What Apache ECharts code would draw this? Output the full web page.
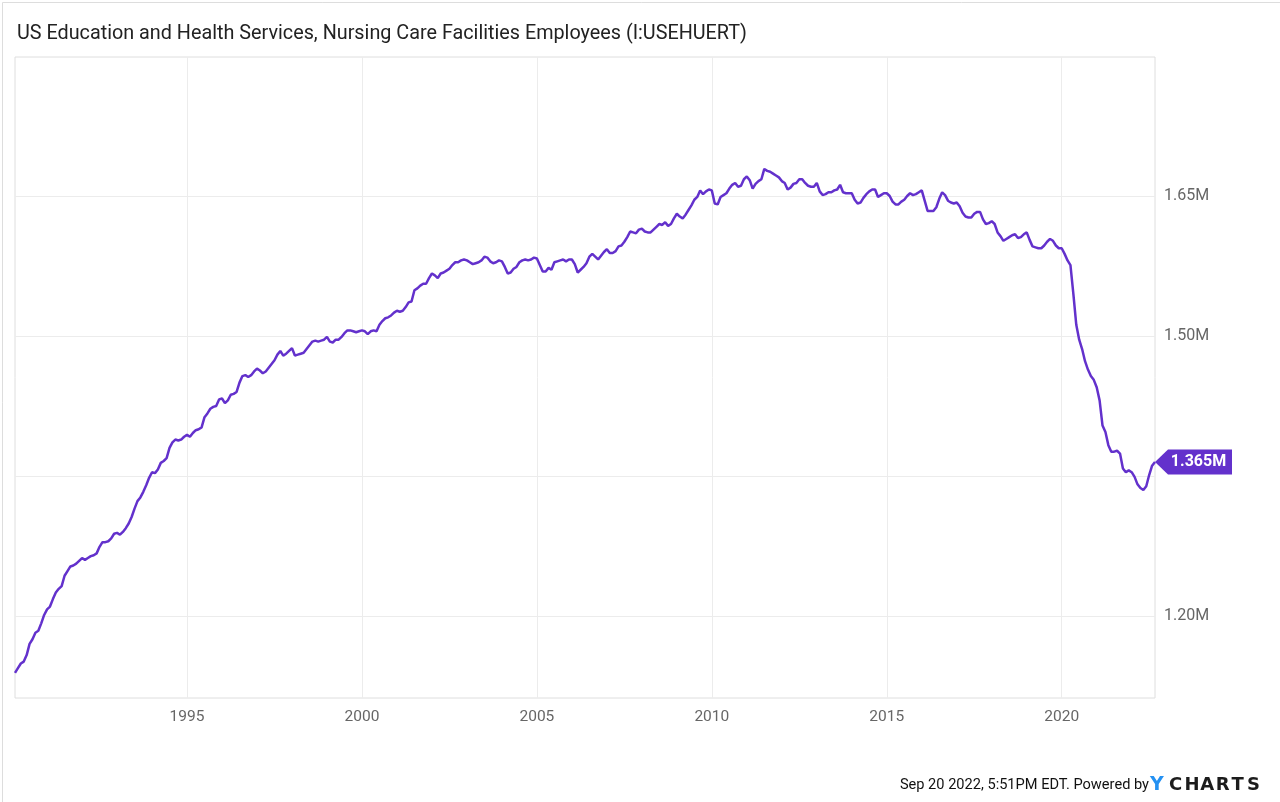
<!DOCTYPE html>
<html>
<head>
<meta charset="utf-8">
<script src="https://cdn.jsdelivr.net/npm/echarts@6/dist/echarts.min.js"></script>
<style>
html,body{margin:0;padding:0;background:#fff;}
#chart{width:1280px;height:802px;}
</style>
</head>
<body>
<div id="chart"></div>
<script>
// Monthly values, thousands of employees (end of month), Jan 1990 .. Aug 2022
const y1990 = [1139,1144,1149,1151,1158,1170,1175,1182,1184,1192,1201,1207];
const y1991 = [1210,1218,1225,1229,1232,1243,1248,1253,1254,1256,1259,1262];
const y1992 = [1260,1262,1264,1265,1267,1274,1279,1279,1280,1283,1288,1289];
const y1993 = [1287,1290,1294,1299,1306,1315,1323,1327,1333,1340,1348,1354];
const y1994 = [1353,1357,1364,1366,1369,1380,1386,1389,1388,1389,1392,1394];
const y1995 = [1392,1396,1399,1400,1402,1413,1417,1422,1424,1425,1432,1433];
const y1996 = [1428,1431,1437,1438,1440,1450,1457,1458,1456,1458,1462,1465];
const y1997 = [1463,1460,1462,1466,1470,1474,1480,1484,1479,1481,1484,1487];
const y1998 = [1479,1480,1481,1482,1486,1490,1494,1495,1494,1495,1496,1499];
const y1999 = [1494,1493,1496,1496,1499,1503,1506,1506,1505,1504,1505,1506];
const y2000 = [1505,1502,1505,1506,1505,1512,1516,1519,1520,1522,1525,1527];
const y2001 = [1526,1527,1531,1536,1537,1549,1551,1554,1556,1556,1562,1567];
const y2002 = [1565,1562,1567,1568,1570,1572,1576,1579,1579,1581,1582,1581];
const y2003 = [1579,1577,1578,1579,1581,1585,1584,1580,1578,1579,1581,1580];
const y2004 = [1574,1567,1568,1572,1574,1579,1581,1582,1581,1582,1584,1583];
const y2005 = [1576,1569,1569,1573,1571,1579,1580,1581,1582,1580,1582,1582];
const y2006 = [1577,1568,1571,1574,1578,1585,1588,1585,1582,1586,1590,1593];
const y2007 = [1589,1589,1591,1596,1597,1601,1606,1612,1611,1610,1614,1615];
const y2008 = [1612,1611,1611,1614,1617,1620,1619,1622,1618,1620,1626,1631];
const y2009 = [1628,1626,1630,1635,1640,1646,1649,1656,1652,1655,1657,1656];
const y2010 = [1642,1641,1649,1651,1653,1658,1662,1664,1660,1661,1668,1671];
const y2011 = [1667,1658,1663,1666,1668,1679,1677,1676,1674,1672,1670,1666];
const y2012 = [1664,1657,1659,1663,1664,1668,1668,1664,1661,1660,1660,1664];
const y2013 = [1655,1651,1652,1654,1654,1656,1657,1662,1654,1653,1653,1653];
const y2014 = [1646,1642,1643,1648,1652,1655,1657,1657,1649,1651,1653,1653];
const y2015 = [1650,1644,1641,1641,1644,1646,1650,1653,1651,1652,1654,1656];
const y2016 = [1645,1634,1634,1634,1638,1647,1654,1651,1645,1643,1642,1643];
const y2017 = [1639,1632,1628,1627,1627,1631,1633,1633,1625,1620,1621,1623];
const y2018 = [1620,1611,1607,1602,1604,1606,1608,1609,1605,1606,1609,1611];
const y2019 = [1603,1596,1595,1594,1594,1597,1601,1604,1602,1597,1594,1594];
const y2020 = [1588,1581,1576,1545,1512,1496,1486,1473,1464,1457,1453,1445];
const y2021 = [1431,1404,1397,1383,1376,1376,1377,1374,1358,1354,1356,1354];
const y2022 = [1349,1341,1337,1335,1339,1351,1361,1365];

const firstYear = 1990;
const yearTicks = [1995, 2000, 2005, 2010, 2015, 2020];
const gridValues = [1200, 1350, 1500, 1650];
const labelValues = [1200, 1500, 1650];
const titleText = 'US Education and Health Services, Nursing Care Facilities Employees (I:USEHUERT)';
const footerText = 'Sep 20 2022, 5:51PM EDT. Powered by';
const logoLetters = ['C', 'H', 'A', 'R', 'T', 'S'];

const years = [y1990,y1991,y1992,y1993,y1994,y1995,y1996,y1997,y1998,y1999,y2000,y2001,y2002,y2003,y2004,y2005,y2006,y2007,y2008,y2009,y2010,y2011,y2012,y2013,y2014,y2015,y2016,y2017,y2018,y2019,y2020,y2021,y2022];
const values = [].concat(...years);
// month-end dates expressed as fractional years
const series = values.map((v, i) => [firstYear + (i + 1) / 12, v]);
const last = series[series.length - 1];

const purple = '#6331cc';
const logoGraphics = [
  {type: 'text', left: 1150, top: 776, style: {text: 'Y', fontFamily: 'DejaVu Sans', fontSize: 19, fontWeight: 'bold', fill: '#2491f2'}}
].concat(logoLetters.map((ch, i) => ({
  type: 'text', left: 1169 + i * 15.6, top: 776,
  style: {text: ch, fontFamily: 'DejaVu Sans', fontSize: 18, fontWeight: 'bold', fill: '#1c1c1c'}
})));

const chart = echarts.init(document.getElementById('chart'), null, {renderer: 'canvas'});
chart.setOption({
  animation: false,
  backgroundColor: '#ffffff',
  title: {
    text: titleText,
    left: 17, top: 24, padding: 0,
    textStyle: {fontFamily: 'Roboto', fontSize: 19.8, fontWeight: 'normal', color: '#222'}
  },
  grid: {left: 15, right: 125, top: 57, bottom: 104, show: true, borderColor: '#dedede', borderWidth: 1, containLabel: false},
  xAxis: {
    type: 'value',
    min: series[0][0], max: last[0],
    axisLine: {show: false},
    axisTick: {show: false, customValues: yearTicks},
    axisLabel: {customValues: yearTicks, formatter: v => String(Math.round(v)), color: '#666', fontFamily: 'Roboto', fontSize: 15.5, margin: 11},
    splitLine: {show: true, lineStyle: {color: '#ececec', width: 1}}
  },
  yAxis: {
    type: 'value', position: 'right',
    min: 1112, max: 1799,
    axisLine: {show: false},
    axisTick: {show: false, customValues: gridValues},
    axisLabel: {customValues: labelValues, formatter: v => (v / 1000).toFixed(2) + 'M', color: '#666', fontFamily: 'Roboto', fontSize: 16, margin: 9},
    splitLine: {show: true, lineStyle: {color: '#ececec', width: 1}}
  },
  series: [{
    type: 'line',
    data: series,
    showSymbol: false,
    lineStyle: {color: purple, width: 2.5},
    itemStyle: {color: purple},
    markPoint: {
      silent: true,
      data: [{
        coord: last,
        symbol: 'path://M0,12.5 L13,0 L77,0 L77,25 L13,25 Z',
        symbolSize: [77, 25],
        symbolOffset: [38.5, 0],
        itemStyle: {color: purple},
        label: {show: true, position: 'inside', offset: [5, 0], formatter: () => (last[1] / 1000).toFixed(3) + 'M', color: '#fff', fontFamily: 'Roboto', fontSize: 16, fontWeight: 'bold'}
      }]
    }
  }],
  graphic: [
    {type: 'rect', left: 0, top: 0, shape: {x: 0.5, y: 0.5, width: 1279, height: 801}, style: {fill: 'none', stroke: '#dddddd', lineWidth: 1}, silent: true},
    {type: 'text', right: 131, top: 778, style: {text: footerText, fontFamily: 'Roboto', fontSize: 14.6, fill: '#111'}}
  ].concat(logoGraphics)
});
</script>
</body>
</html>
